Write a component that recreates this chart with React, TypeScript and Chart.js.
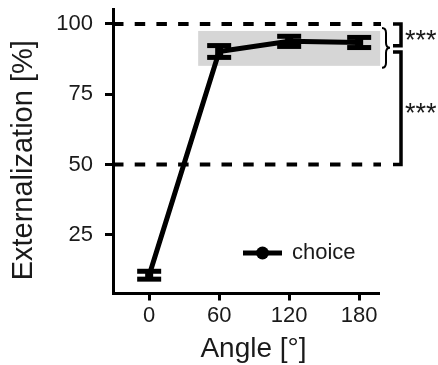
import React, { useEffect, useRef } from "react";
import { Chart, registerables } from "chart.js";

Chart.register(...registerables);

// ---- data ----
const angles = [0, 60, 120, 180];
const externalization = [10.7, 90.2, 93.8, 93.4];
const errors = [1.4, 2.1, 1.8, 1.8];
const xTicks = [0, 60, 120, 180];
const yTicks = [25, 50, 75, 100];
const dashedLevels = [100, 50];
const shadedX = [42, 198];
const shadedY = [85.1, 97.5];
const seriesName = "choice";
const xTitle = "Angle [°]";
const yTitle = "Externalization [%]";
const sigLabel = "***";

const FONT = "'Liberation Sans', Arial, sans-serif";
const TEXT = "#1a1a1a";

const annotations = {
  id: "annotations",
  beforeDatasetsDraw(chart: any) {
    const { ctx, chartArea: ca, scales } = chart;
    const x = scales.x;
    const y = scales.y;
    ctx.save();
    // shaded box
    ctx.fillStyle = "#d6d6d6";
    const bx0 = x.getPixelForValue(shadedX[0]);
    const bx1 = x.getPixelForValue(shadedX[1]);
    const by0 = y.getPixelForValue(shadedY[1]);
    const by1 = y.getPixelForValue(shadedY[0]);
    ctx.fillRect(bx0, by0, bx1 - bx0, by1 - by0);
    // dashed lines
    ctx.strokeStyle = "#000";
    ctx.lineWidth = 4;
    ctx.setLineDash([10.5, 11.2]);
    dashedLevels.forEach((v) => {
      const py = y.getPixelForValue(v);
      ctx.beginPath();
      ctx.moveTo(ca.left, py);
      ctx.lineTo(ca.right + 2, py);
      ctx.stroke();
    });
    ctx.restore();
  },
  afterDatasetsDraw(chart: any) {
    const { ctx, chartArea: ca, scales } = chart;
    const x = scales.x;
    const y = scales.y;
    ctx.save();
    // error bars
    ctx.fillStyle = "#000";
    angles.forEach((a, i) => {
      const px = x.getPixelForValue(a);
      const top = y.getPixelForValue(externalization[i] + errors[i]);
      const bot = y.getPixelForValue(externalization[i] - errors[i]);
      ctx.fillRect(px - 4, top, 8, bot - top);
      ctx.fillRect(px - 12, top - 2.5, 24, 5);
      ctx.fillRect(px - 12, bot - 2.5, 24, 5);
    });

    // brackets on the right
    const r = ca.right;
    ctx.strokeStyle = "#000";
    ctx.lineWidth = 3.5;
    ctx.lineJoin = "miter";
    const bracket = (v0: number, v1: number) => {
      const p0 = y.getPixelForValue(v0);
      const p1 = y.getPixelForValue(v1);
      ctx.beginPath();
      ctx.moveTo(r + 14, p0);
      ctx.lineTo(r + 22, p0);
      ctx.lineTo(r + 22, p1);
      ctx.lineTo(r + 14, p1);
      ctx.stroke();
    };
    bracket(100, 92.2);
    bracket(90, 50);

    // curly brace
    const t = y.getPixelForValue(shadedY[1]) - 3;
    const b = y.getPixelForValue(shadedY[0]) + 2;
    const m = y.getPixelForValue(91.5);
    const x0 = r + 3;
    const xm = r + 7;
    const x1 = r + 11;
    ctx.lineWidth = 2;
    ctx.beginPath();
    ctx.moveTo(x0, t);
    ctx.quadraticCurveTo(xm, t, xm, t + 5);
    ctx.lineTo(xm, m - 5);
    ctx.quadraticCurveTo(xm, m, x1, m);
    ctx.quadraticCurveTo(xm, m, xm, m + 5);
    ctx.lineTo(xm, b - 5);
    ctx.quadraticCurveTo(xm, b, x0, b);
    ctx.stroke();

    // stars
    ctx.fillStyle = TEXT;
    ctx.font = `27px ${FONT}`;
    ctx.textAlign = "left";
    ctx.textBaseline = "middle";
    ctx.fillText(sigLabel, r + 26, y.getPixelForValue(96) + 6);
    ctx.fillText(sigLabel, r + 26, y.getPixelForValue(70) + 6);

    // legend
    const ly = y.getPixelForValue(18.6);
    const lx = ca.left + 130;
    ctx.strokeStyle = "#000";
    ctx.lineWidth = 5;
    ctx.beginPath();
    ctx.moveTo(lx, ly);
    ctx.lineTo(lx + 39, ly);
    ctx.stroke();
    ctx.beginPath();
    ctx.arc(lx + 19.5, ly, 6.5, 0, Math.PI * 2);
    ctx.fillStyle = "#000";
    ctx.fill();
    ctx.fillStyle = TEXT;
    ctx.font = `22px ${FONT}`;
    ctx.textBaseline = "alphabetic";
    ctx.fillText(seriesName, lx + 49, ly + 6);

    // axis titles
    ctx.font = `28px ${FONT}`;
    ctx.textAlign = "center";
    ctx.textBaseline = "alphabetic";
    ctx.fillText(xTitle, (ca.left + ca.right) / 2 + 7.5, chart.height - 8);
    ctx.save();
    ctx.translate(32, (ca.top + ca.bottom) / 2 + 9);
    ctx.rotate(-Math.PI / 2);
    ctx.font = `29px ${FONT}`;
    ctx.fillText(yTitle, 0, 0);
    ctx.restore();
    ctx.restore();
  },
};

export default function App() {
  const ref = useRef<HTMLCanvasElement>(null);
  useEffect(() => {
    if (!ref.current) return;
    const chart = new Chart(ref.current, {
      type: "line",
      data: {
        datasets: [
          {
            label: seriesName,
            data: angles.map((a, i) => ({ x: a, y: externalization[i] })),
            borderColor: "#000",
            backgroundColor: "#000",
            borderWidth: 5,
            pointRadius: 0,
            tension: 0,
          },
        ],
      },
      options: {
        responsive: false,
        animation: false,
        devicePixelRatio: 1,
        layout: { padding: { left: 0, top: 9, right: 59, bottom: 0 } },
        plugins: { legend: { display: false }, tooltip: { enabled: false } },
        scales: {
          x: {
            type: "linear",
            min: -31,
            max: 197,
            afterBuildTicks: (s: any) => {
              s.ticks = xTicks.map((v) => ({ value: v }));
            },
            afterFit: (s: any) => {
              s.height = 71.5;
              s.paddingLeft = 0;
              s.paddingRight = 0;
            },
            grid: {
              drawOnChartArea: false,
              drawTicks: true,
              tickLength: 7,
              tickWidth: 3,
              tickColor: "#000",
            },
            border: { display: true, width: 3, color: "#000" },
            ticks: {
              padding: 2,
              color: TEXT,
              font: { family: FONT, size: 22 },
              maxRotation: 0,
            },
          },
          y: {
            type: "linear",
            min: 4.2,
            max: 105.3,
            afterBuildTicks: (s: any) => {
              s.ticks = yTicks.map((v) => ({ value: v }));
            },
            afterFit: (s: any) => {
              s.width = 113;
              s.paddingTop = 0;
              s.paddingBottom = 0;
            },
            grid: {
              drawOnChartArea: false,
              drawTicks: true,
              tickLength: 8,
              tickWidth: 3,
              tickColor: "#000",
            },
            border: { display: true, width: 3, color: "#000" },
            ticks: {
              padding: 12,
              color: TEXT,
              font: { family: FONT, size: 22 },
            },
          },
        },
      },
      plugins: [annotations],
    });
    return () => chart.destroy();
  }, []);
  return (
    <div style={{ position: "fixed", left: 0, top: 0, width: 438, height: 365, background: "#fff" }}>
      <canvas ref={ref} width={438} height={365} style={{ display: "block" }} />
    </div>
  );
}
